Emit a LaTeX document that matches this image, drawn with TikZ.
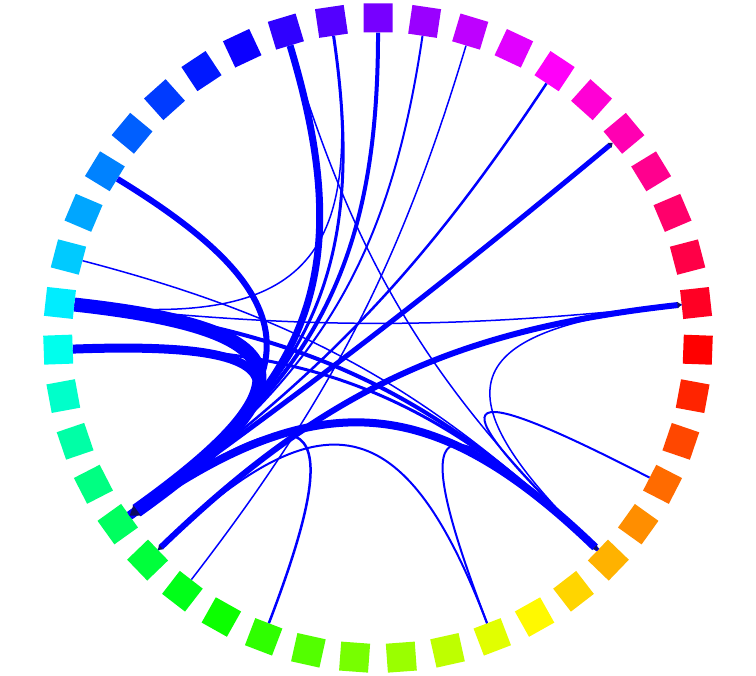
\documentclass[tikz,border=0pt]{standalone}
\usetikzlibrary{calc,arrows.meta}
\definecolor{edgeblue}{RGB}{0,0,255}
\definecolor{tipnavy}{RGB}{12,12,96}
\newcommand{\chordedge}[4][]{%
  \draw[edge, line width=#4pt, #1] (s#2.west) .. controls ($(s#2.west)!0.75!(O)$) and ($(s#3.west)!0.75!(O)$) .. (s#3.west);}
\begin{document}
\begin{tikzpicture}[x=1pt,y=1pt,
  sq/.style={rectangle, minimum width=29pt, minimum height=29pt, inner sep=0pt, draw=none},
  edge/.style={draw=edgeblue, line cap=butt},
  tipbig/.style={-{Triangle[length=9pt,width=12pt,color=tipnavy]}},
  tipsmall/.style={-{Triangle[length=4pt,width=6pt,color=tipnavy]}},
  tipboth/.style={{Triangle[length=4pt,width=6pt,color=tipnavy]}-{Triangle[length=4pt,width=6pt,color=tipnavy]}}
]
\useasboundingbox (0,0) rectangle (756,676);
\coordinate (O) at (378,338);
\foreach \k in {0,...,42}{
  \pgfmathsetmacro{\ang}{-2.1+\k*360/43}
  \pgfmathsetmacro{\hue}{mod(360*(43-\k)/43,360)}
  \edef\tmpdef{\noexpand\definecolor{sqhsb}{Hsb}{\hue,1,1}}\tmpdef
  \colorlet{sqc}[rgb]{sqhsb}
  \node[sq, fill=sqc, rotate=\ang] (s\k) at ($(O)+(\ang:320)$) {};
}
% chords
\chordedge{22}{26}{9}
\chordedge{18}{26}{6}
\chordedge{13}{26}{7}
\chordedge{12}{26}{3}
\chordedge{11}{26}{4}
\chordedge{10}{26}{2}
\chordedge{7}{26}{2.5}
\chordedge{30}{26}{2.5}
\chordedge{21}{38}{4}
\chordedge{22}{38}{3}
\chordedge{21}{1}{1.5}
\chordedge{12}{21}{1.5}
\chordedge{13}{38}{1.5}
\chordedge{20}{38}{1.5}
\chordedge{40}{38}{2}
\chordedge{1}{38}{1.5}
\chordedge{35}{38}{2}
\chordedge{35}{27}{2}
\chordedge{28}{9}{1.5}
\chordedge[tipsmall]{26}{5}{5}
\chordedge[tipsmall]{26}{38}{8}
\chordedge[tipboth]{27}{1}{6}
\chordedge[tipbig]{21}{26}{14}
\end{tikzpicture}
\end{document}
